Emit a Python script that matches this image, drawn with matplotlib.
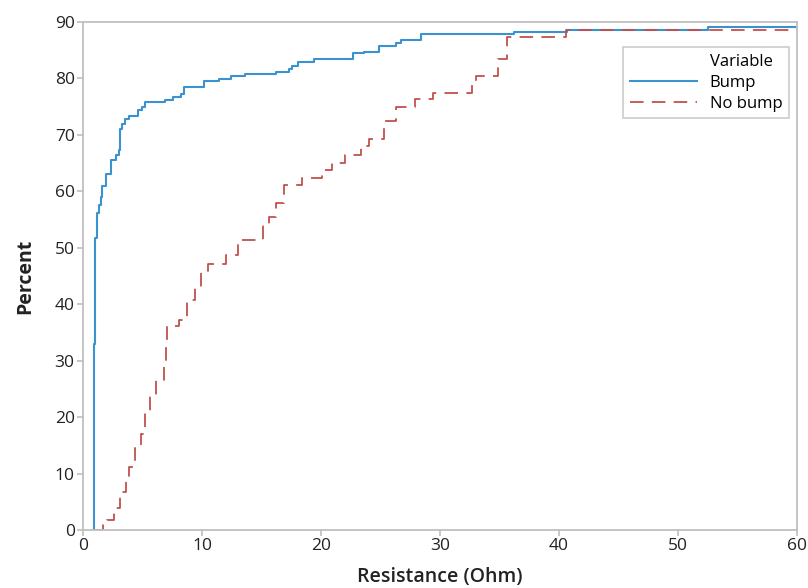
import matplotlib.pyplot as plt
from matplotlib.lines import Line2D

bump_x = [0.9, 0.9, 1.0, 1.15, 1.35, 1.55, 1.6, 1.9, 2.35, 2.8, 3.0, 3.1, 3.3, 3.5,
          3.9, 4.6, 5.0, 5.2, 6.9, 7.6, 8.2, 8.45, 10.2, 11.4, 12.4, 13.6, 16.2,
          17.3, 17.6, 18.1, 19.4, 22.7, 23.6, 24.9, 26.3, 26.7, 28.4, 36.2, 40.7,
          52.5, 60]
bump_y = [0, 33.0, 51.7, 56.2, 57.5, 59.0, 61.0, 63.0, 65.6, 66.5, 67.3, 71.0, 72.0,
          72.8, 73.4, 74.4, 75.0, 75.9, 76.2, 76.8, 77.3, 78.4, 79.5, 79.9, 80.4,
          80.8, 81.2, 81.7, 82.2, 83.0, 83.5, 84.5, 84.7, 85.8, 86.2, 86.8, 87.8,
          88.3, 88.6, 89.2, 89.2]

nobump_x = [1.0, 1.7, 2.0, 2.6, 3.1, 3.6, 3.9, 4.4, 4.9, 5.2, 5.6, 6.1, 6.8, 7.0,
            7.1, 8.1, 8.7, 9.4, 9.9, 10.5, 12.0, 13.0, 15.1, 15.6, 16.2, 16.9, 18.4,
            20.1, 20.9, 22.0, 23.4, 24.0, 25.3, 26.3, 27.9, 29.4, 32.7, 33.0, 34.9,
            35.6, 40.6, 60]
nobump_y = [0, 1.1, 1.8, 3.9, 6.8, 8.9, 11.1, 14.6, 17.0, 21.0, 24.0, 26.6, 30.0,
            33.0, 36.1, 37.2, 40.7, 43.0, 45.8, 47.1, 48.7, 51.4, 54.0, 55.5, 58.0,
            61.1, 62.3, 63.8, 65.0, 66.4, 68.0, 69.2, 72.4, 74.9, 76.4, 77.5, 79.0,
            80.4, 83.5, 87.3, 88.6, 88.6]

blue = "#3a93cf"
red = "#c0504d"
grey = "#bfbfbf"

plt.rcParams["font.family"] = ["Open Sans", "DejaVu Sans"]

fig = plt.figure(figsize=(8.08, 5.88), dpi=100)
ax = fig.add_axes([0.1027, 0.0986, 0.8837, 0.864])

ax.step(bump_x, bump_y, where="post", color=blue, linewidth=1.5, label="Bump")
ax.step(nobump_x, nobump_y, where="post", color=red, linewidth=1.3,
        dashes=(7.5, 4.6), label="No bump")

ax.set_xlim(0, 60)
ax.set_ylim(0, 90)
ax.set_xticks(range(0, 61, 10))
ax.set_yticks(range(0, 91, 10))

for s in ax.spines.values():
    s.set_color(grey)
    s.set_linewidth(1.3)
ax.tick_params(direction="out", length=4, width=1.2, color=grey,
               labelsize=12.5, labelcolor="#222222", pad=2)

ax.set_xlabel("Resistance (Ohm)", fontsize=14, fontweight="semibold",
              color="#222222", labelpad=9)
ax.set_ylabel("Percent", fontsize=14, fontweight="bold",
              color="#222222", labelpad=14)

# legend with "Variable" header aligned with the labels
blank = Line2D([], [], color="none")
h1 = Line2D([], [], color=blue, linewidth=1.5)
h2 = Line2D([], [], color=red, linewidth=1.3, dashes=(7.5, 4.6))
leg = ax.legend([blank, h1, h2], ["Variable", "Bump", "No bump"],
                loc="upper right", bbox_to_anchor=(0.989, 0.951),
                fontsize=12, frameon=True, fancybox=False,
                handlelength=4.0, handletextpad=0.8, labelspacing=0.3,
                borderpad=0.4, borderaxespad=0)
leg.get_frame().set_edgecolor(grey)
leg.get_frame().set_linewidth(1.2)

fig.savefig("out.png", dpi=100)
